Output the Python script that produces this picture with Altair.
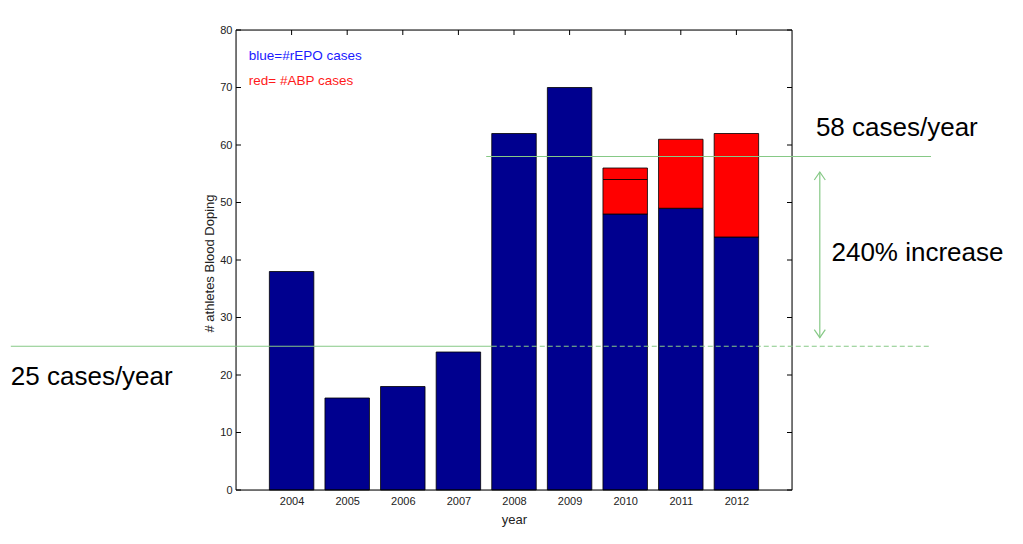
import altair as alt
import pandas as pd

# ---- data ----
years = [2004, 2005, 2006, 2007, 2008, 2009, 2010, 2011, 2012]
repo_cases = [38, 16, 18, 24, 62, 70, 48, 49, 44]      # blue
abp_cases_a = [0, 0, 0, 0, 0, 0, 6, 12, 18]            # red (lower part)
abp_cases_b = [0, 0, 0, 0, 0, 0, 2, 0, 0]              # red (upper part, 2010)

y_ticks = [0, 10, 20, 30, 40, 50, 60, 70, 80]

# annotation lines: (y value, x start, x end, dashed?)
avg_y = [58, 25, 25]
avg_x0 = [2007.5, 1998.95, 2007.6]
avg_x1 = [2015.5, 2007.6, 2015.5]
avg_dash = ["solid", "solid", "dashed"]

arrow_x = 2013.5
arrow_y_top = 55.3
arrow_y_bottom = 26.5

big_labels = ["58 cases/year", "25 cases/year", "240% increase"]
big_x = [2013.43, 1998.95, 2013.71]
big_y = [61.6, 18.2, 39.9]

legend_labels = ["blue=#rEPO cases", "red= #ABP cases"]
legend_colors = ["#1a1aff", "#ff1a1a"]
legend_x = [2003.23, 2003.23]
legend_y = [74.8, 70.5]

# ---- build tables ----
rows = []
for yr, b, ra, rb in zip(years, repo_cases, abp_cases_a, abp_cases_b):
    rows.append({"year": yr, "y0": 0, "y1": b, "color": "#00008f"})
    if ra:
        rows.append({"year": yr, "y0": b, "y1": b + ra, "color": "#ff0000"})
    if rb:
        rows.append({"year": yr, "y0": b + ra, "y1": b + ra + rb, "color": "#ff0000"})
bars_df = pd.DataFrame(rows)

lines_df = pd.DataFrame({"y": avg_y, "x0": avg_x0, "x1": avg_x1, "dash": avg_dash})
big_df = pd.DataFrame({"label": big_labels, "x": big_x, "y": big_y})
leg_df = pd.DataFrame({"label": legend_labels, "x": legend_x, "y": legend_y, "c": legend_colors})
yt_df = pd.DataFrame({"v": y_ticks})
xt_df = pd.DataFrame({"v": years})
arrow_df = pd.DataFrame({"x": [arrow_x], "ya": [arrow_y_bottom], "yb": [arrow_y_top]})
frame_df = pd.DataFrame({"k": [0]})

W, H = 556, 460
FONT = "Liberation Sans"
GREEN = "#86c986"

xscale = alt.Scale(domain=[2003, 2013], nice=False, zero=False)
yscale = alt.Scale(domain=[0, 80], nice=False)

x_axis = alt.Axis(values=years, format="d", ticks=False, domain=False, grid=False,
                  labelFontSize=11, labelColor="#222", labelBaseline="alphabetic",
                  labelPadding=14, title="year", titleFontSize=13, titleFontWeight="normal",
                  titleColor="#222", titleY=33, titleBaseline="alphabetic")
y_axis = alt.Axis(values=y_ticks, ticks=False, domain=False, grid=False,
                  labelFontSize=11, labelColor="#222", labelPadding=4,
                  title="# athletes Blood Doping", titleFontSize=13, titleFontWeight="normal",
                  titleColor="#222", titleX=-23, titleY=233, titleAngle=270,
                  titleBaseline="alphabetic", titleAlign="center")

bars = alt.Chart(bars_df).transform_calculate(
    xa="datum.year - 0.4", xb="datum.year + 0.4"
).mark_rect(stroke="black", strokeWidth=0.8).encode(
    x=alt.X("xa:Q", scale=xscale, axis=x_axis),
    x2="xb:Q",
    y=alt.Y("y0:Q", scale=yscale, axis=y_axis),
    y2="y1:Q",
    fill=alt.Fill("color:N", scale=None),
)

left_ticks = alt.Chart(yt_df).mark_rule(color="black", strokeWidth=1).encode(
    y=alt.Y("v:Q", scale=yscale), x=alt.value(0), x2=alt.value(5))
right_ticks = alt.Chart(yt_df).mark_rule(color="black", strokeWidth=1).encode(
    y=alt.Y("v:Q", scale=yscale), x=alt.value(W - 5), x2=alt.value(W))
top_ticks = alt.Chart(xt_df).mark_rule(color="black", strokeWidth=1).encode(
    x=alt.X("v:Q", scale=xscale), y=alt.value(0), y2=alt.value(5))
bottom_ticks = alt.Chart(xt_df).mark_rule(color="black", strokeWidth=1).encode(
    x=alt.X("v:Q", scale=xscale), y=alt.value(H - 5), y2=alt.value(H))

frame = alt.Chart(frame_df).mark_rect(fill=None, fillOpacity=0, stroke="black", strokeWidth=1).encode(
    x=alt.value(0), x2=alt.value(W), y=alt.value(0), y2=alt.value(H))

solid_lines = alt.Chart(lines_df).transform_filter("datum.dash == 'solid'").mark_rule(
    color=GREEN, strokeWidth=1.2).encode(
    x=alt.X("x0:Q", scale=xscale), x2="x1:Q", y=alt.Y("y:Q", scale=yscale))
dashed_lines = alt.Chart(lines_df).transform_filter("datum.dash == 'dashed'").mark_rule(
    color=GREEN, strokeWidth=1.2, strokeDash=[5, 3]).encode(
    x=alt.X("x0:Q", scale=xscale), x2="x1:Q", y=alt.Y("y:Q", scale=yscale))

arrow_line = alt.Chart(arrow_df).mark_rule(color=GREEN, strokeWidth=1.2).encode(
    x=alt.X("x:Q", scale=xscale), y=alt.Y("ya:Q", scale=yscale), y2="yb:Q")
arrow_top = alt.Chart(arrow_df).mark_point(
    shape="M-1,1.45L0,0L1,1.45", filled=False, size=121, color=GREEN, strokeWidth=1.2, opacity=1
).encode(x=alt.X("x:Q", scale=xscale), y=alt.Y("yb:Q", scale=yscale))
arrow_bot = alt.Chart(arrow_df).mark_point(
    shape="M-1,-1.45L0,0L1,-1.45", filled=False, size=121, color=GREEN, strokeWidth=1.2, opacity=1
).encode(x=alt.X("x:Q", scale=xscale), y=alt.Y("ya:Q", scale=yscale))

big_text = alt.Chart(big_df).mark_text(
    align="left", baseline="alphabetic", fontSize=26, font=FONT, color="black"
).encode(x=alt.X("x:Q", scale=xscale), y=alt.Y("y:Q", scale=yscale), text="label:N")

leg_text = alt.Chart(leg_df).mark_text(
    align="left", baseline="alphabetic", fontSize=13.5, font=FONT
).encode(x=alt.X("x:Q", scale=xscale), y=alt.Y("y:Q", scale=yscale), text="label:N",
         color=alt.Color("c:N", scale=None))

chart = alt.layer(
    bottom_ticks, bars, left_ticks, right_ticks, top_ticks, frame,
    solid_lines, dashed_lines, arrow_line, arrow_top, arrow_bot,
    big_text, leg_text,
).properties(
    width=W, height=H,
    autosize=alt.AutoSizeParams(type="none"),
    padding={"left": 228, "top": 22, "right": 215, "bottom": 40},
    background="white",
).configure_view(
    stroke=None
).configure(font=FONT)

chart.save("out.html", embed_options={"renderer": "svg", "actions": False})
